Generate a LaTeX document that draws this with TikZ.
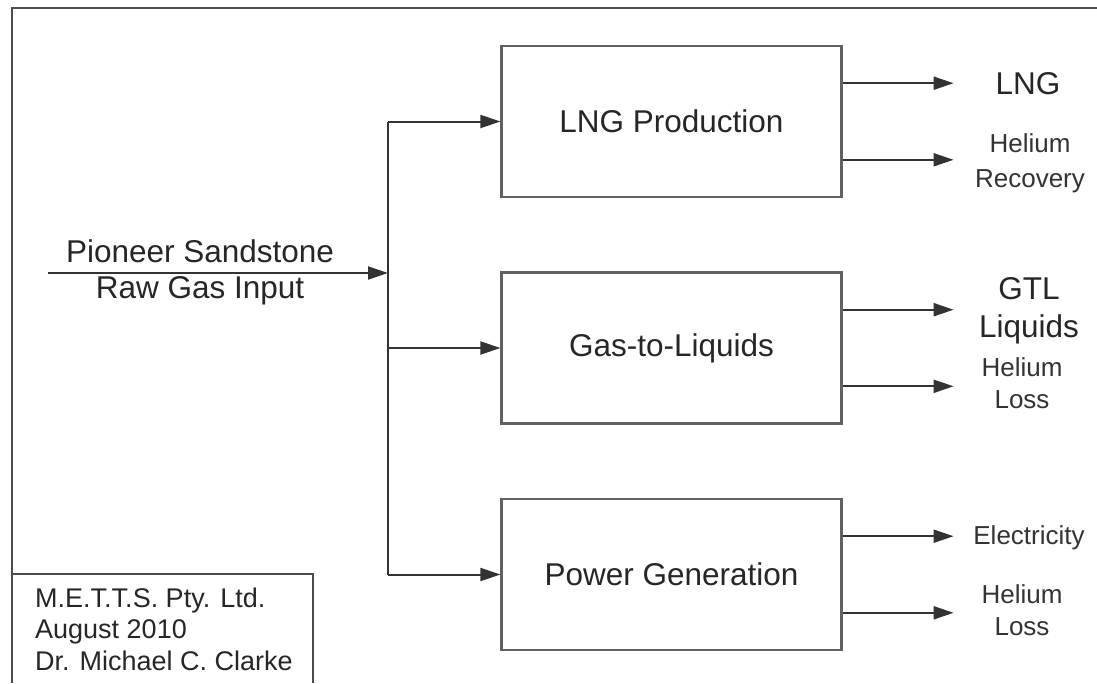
\documentclass[tikz,border=0pt]{standalone}
\usepackage{fontspec}
\setmainfont{Liberation Sans}
\usetikzlibrary{arrows.meta,positioning,calc}
\tikzset{unit/.style={draw=black!62,line width=2.2pt,minimum width=340pt,minimum height=151pt,font=\fontsize{31.5}{38}\selectfont,text=black!85},flow/.style={-{Triangle[length=20pt,width=13pt]},line width=2pt,draw=black!80},wire/.style={line width=2pt,draw=black!80},big/.style={font=\fontsize{31.5}{38}\selectfont,align=center,text=black!85,inner sep=0pt,anchor=base},small/.style={font=\fontsize{26}{32}\selectfont,align=center,text=black!80,inner sep=0pt,anchor=base}}
\begin{document}
\begin{tikzpicture}[x=1pt,y=-1pt]
\useasboundingbox (0,0) rectangle (1097,683);
% sheet frame and title block
\draw[black!70,line width=2pt] (12,683)--(12,8)--(1097,8);
\draw[black!70,line width=1.8pt] (12,574)--(313,574)--(313,683);
\node[anchor=base west,align=left,inner sep=0pt,font=\fontsize{27}{31.5}\selectfont,text=black!85] (credit) at (35,670) {M.E.T.T.S. Pty. Ltd.\\August 2010\\Dr. Michael C. Clarke};
% process units
\node[unit] (lng) at (671.5,121.5) {LNG Production};
\node[unit] (gtl) at (671.5,348) {Gas-to-Liquids};
\node[unit] (pow) at (671.5,574.5) {Power Generation};
% raw gas feed
\coordinate (src) at (48,273);
\coordinate (split) at (388,273);
\draw[flow] (src) -- (split);
\node[font=\fontsize{31.5}{36}\selectfont,text=black!85,inner sep=0pt,anchor=base] (feedtop) at (200,262) {Pioneer Sandstone};
\node[font=\fontsize{31.5}{36}\selectfont,text=black!85,inner sep=0pt,anchor=base] (feedbot) at (200,298) {Raw Gas Input};
\draw[wire] (split |- lng.west) -- (split |- pow.west);
\foreach \b in {lng,gtl,pow}{
  \draw[flow] (split |- \b.west) -- (\b.west);
  \draw[flow] ($(\b.north east)!.25!(\b.south east)$) -- ++(111,0) coordinate (\b-hi);
  \draw[flow] ($(\b.north east)!.75!(\b.south east)$) -- ++(111,0) coordinate (\b-lo);
}
% products
\node[big] (lngout) at (1028,94) {LNG};
\node[small,font=\fontsize{26}{35}\selectfont] (herec) at (1030,187) {Helium\\Recovery};
\node[big] (gtlout) at (1029,337) {GTL\\Liquids};
\node[small] (heloss1) at (1022,408) {Helium\\Loss};
\node[small] (elec) at (1029,544) {Electricity};
\node[small] (heloss2) at (1022,635) {Helium\\Loss};
\end{tikzpicture}
\end{document}
